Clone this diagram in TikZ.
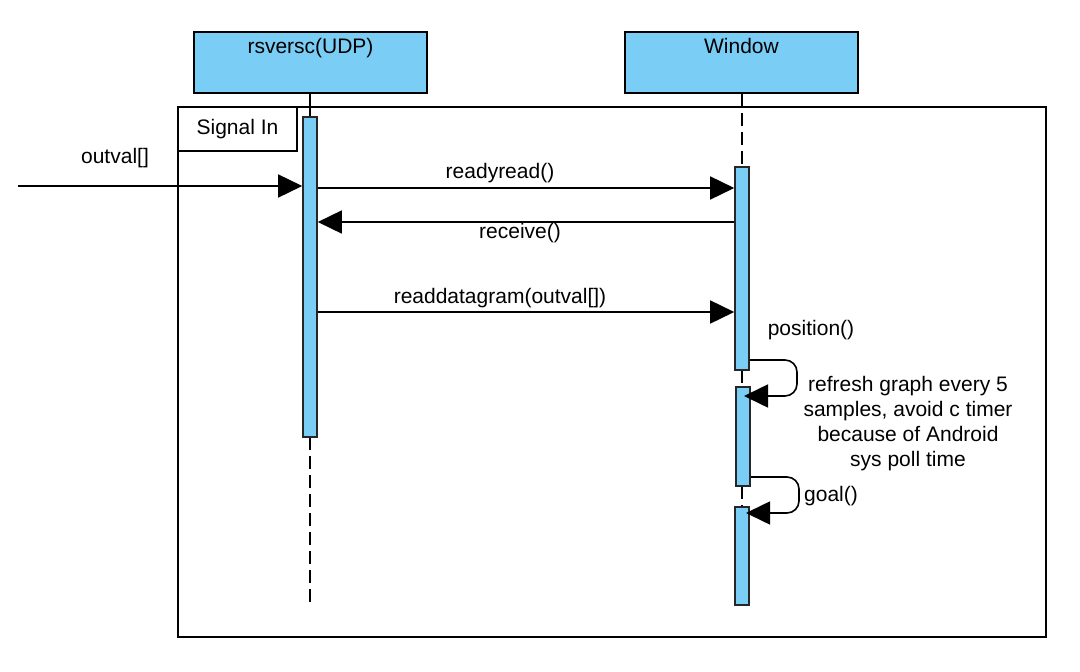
\documentclass[tikz,border=0pt]{standalone}
\usepackage{fontspec}
\setmainfont{Liberation Sans}
\usetikzlibrary{arrows.meta}
\definecolor{actblue}{RGB}{122,206,245}
\begin{document}
\begin{tikzpicture}[x=1pt,y=-1pt,
  every node/.style={font=\fontsize{21}{25}\selectfont},
  head/.style={draw=black,line width=2pt,fill=actblue,minimum width=233pt,minimum height=61pt,inner sep=0pt},
  act/.style={draw=black!85,line width=1.6pt,fill=actblue,minimum width=14pt,inner sep=0pt},
  life/.style={line width=1.6pt,dash pattern=on 13pt off 6pt},
  msg/.style={line width=1.6pt,-{Triangle[length=24pt,width=23pt]}},
  lbl/.style={inner sep=0pt}]
\useasboundingbox (0,0) rectangle (1080,672);
% frame
\node[draw,line width=1.6pt,minimum width=868pt,minimum height=530pt,inner sep=0pt] (frame) at (612,372) {};
\node[draw,line width=1.6pt,minimum width=119pt,minimum height=44pt,inner sep=0pt] (tab) at (237.5,129) {Signal In};
% heads
\node[head,label={[lbl,anchor=north,yshift=-7pt]north:rsversc(UDP)}] (h1) at (310.5,62.5) {};
\node[head,label={[lbl,anchor=north,yshift=-7pt]north:Window}] (h2) at (741.5,62.5) {};
% activation coordinates
\coordinate (l1end) at (310,605);
% lifelines
\draw[line width=1.6pt] (h1.south -| 310,0) -- (310,117);
\draw[life] (310,437) -- (l1end);
\draw[life] (h2.south -| 742,0) -- (742,167);
\draw[life] (742,370) -- (742,387);
\draw[life] (742,486) -- (742,507);
% activations
\node[act,minimum height=320pt] (a1) at (310,277) {};
\node[act,minimum height=203pt] (a2) at (742,268.5) {};
\node[act,minimum height=99pt] (a3) at (743,436.5) {};
\node[act,minimum height=98pt] (a4) at (742,556) {};
% messages
\coordinate (src) at (18,186);
\draw[msg] (src) -- (src -| a1.west);
\node[lbl] (lout) at (115,158) {outval[]};
\draw[msg] (a1.east |- 0,188) -- (a2.west |- 0,188);
\node[lbl] (lrr) at (500,173) {readyread()};
\draw[msg] (a2.west |- 0,222) -- (a1.east |- 0,222);
\node[lbl] (lrc) at (520,233) {receive()};
\draw[msg] (a1.east |- 0,312) -- (a2.west |- 0,312);
\node[lbl] (lrd) at (500,298) {readdatagram(outval[])};
% self loops
\draw[msg,rounded corners=12pt] (a2.east |- 0,360) -- (797,360) -- (797,396) -- (744,396);
\node[lbl] (lpos) at (811,330) {position()};
\node[lbl,align=center] (lnote) at (908,424) {refresh graph every 5\\samples, avoid c timer\\because of Android\\sys poll time};
\draw[msg,rounded corners=12pt] (a3.east |- 0,477) -- (799,477) -- (799,513) -- (746,513);
\node[lbl] (lgoal) at (831,496) {goal()};
\end{tikzpicture}
\end{document}
